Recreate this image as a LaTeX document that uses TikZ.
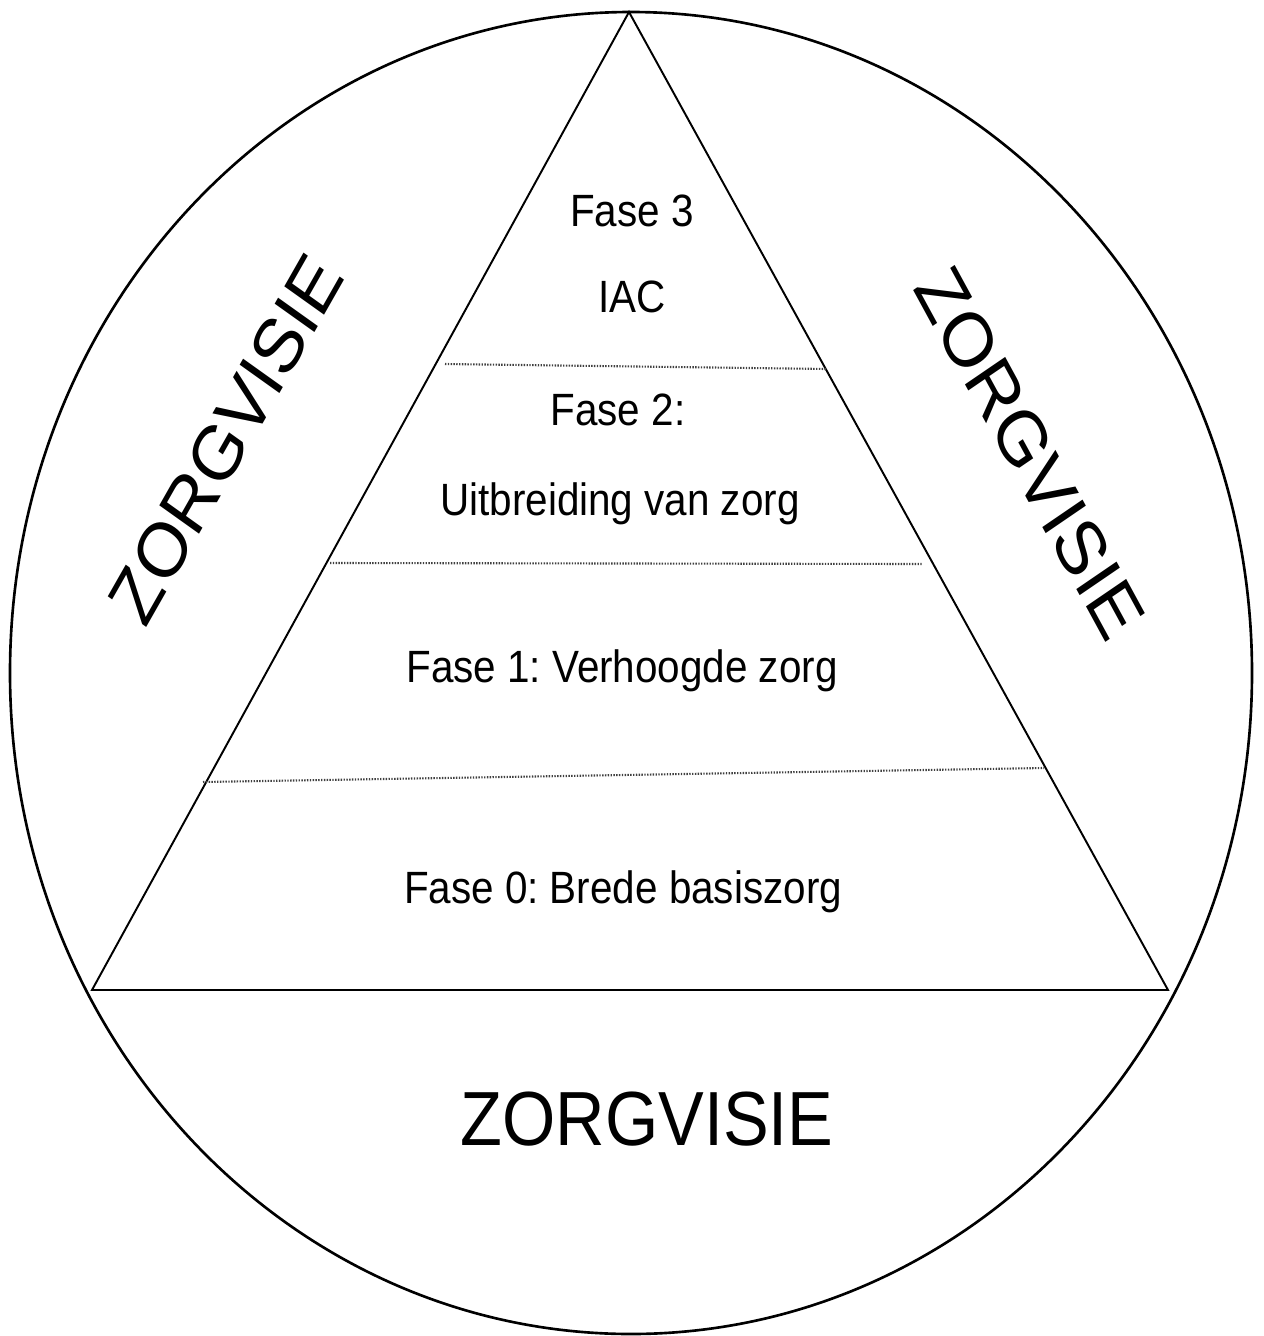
\documentclass[tikz,border=0pt]{standalone}
\usepackage{fontspec}
\setmainfont{Liberation Sans}
\frenchspacing

\begin{document}
\begin{tikzpicture}[x=0.02cm,y=-0.02cm,
    fase/.style={font=\fontsize{23}{28}\selectfont,anchor=base,inner sep=0pt,yscale=1.12},
    visie/.style={font=\fontsize{39}{47}\selectfont,inner sep=0pt,yscale=1.12},
    grens/.style={draw=black!75,line width=1.2pt,dash pattern=on 0.8pt off 0.8pt}
  ]
  \useasboundingbox (0,0) rectangle (1264,1336);
  % cirkel en piramide
  \draw[line width=1.5pt] (631,673) ellipse [x radius=621,y radius=661];
  \coordinate (top) at (629,12);
  \coordinate (linksonder) at (92,990);
  \coordinate (rechtsonder) at (1168,990);
  \draw[line width=1.1pt] (top) -- (linksonder) -- (rechtsonder) -- cycle;

  % grenzen tussen de fasen
  \coordinate (l3) at (445,364);  \coordinate (r3) at (827,369);
  \coordinate (l2) at (330,563);  \coordinate (r2) at (922,564);
  \coordinate (l1) at (203,782);  \coordinate (r1) at (1044,768);
  \draw[grens] (l3) -- (r3);
  \draw[grens] (l2) -- (r2);
  \draw[grens] (l1) -- (r1);

  \node[fase] (fase3) at (632,226) {Fase 3};
  \node[fase] (iac) at (632,312) {IAC};
  \node[fase] (fase2) at (618,425) {Fase 2:};
  \node[fase] (uitbreiding) at (620,515) {Uitbreiding van zorg};
  \node[fase] (fase1) at (622,682) {Fase 1: Verhoogde zorg};
  \node[fase] (fase0) at (623,903) {Fase 0: Brede basiszorg};

  \node[visie,rotate=57.5] (visielinks) at (226,439) {ZORGVISIE};
  \node[visie,rotate=-58.6] (visierechts) at (1030,453) {ZORGVISIE};
  \node[visie,anchor=base] (visieonder) at (647,1145) {ZORGVISIE};
\end{tikzpicture}
\end{document}
